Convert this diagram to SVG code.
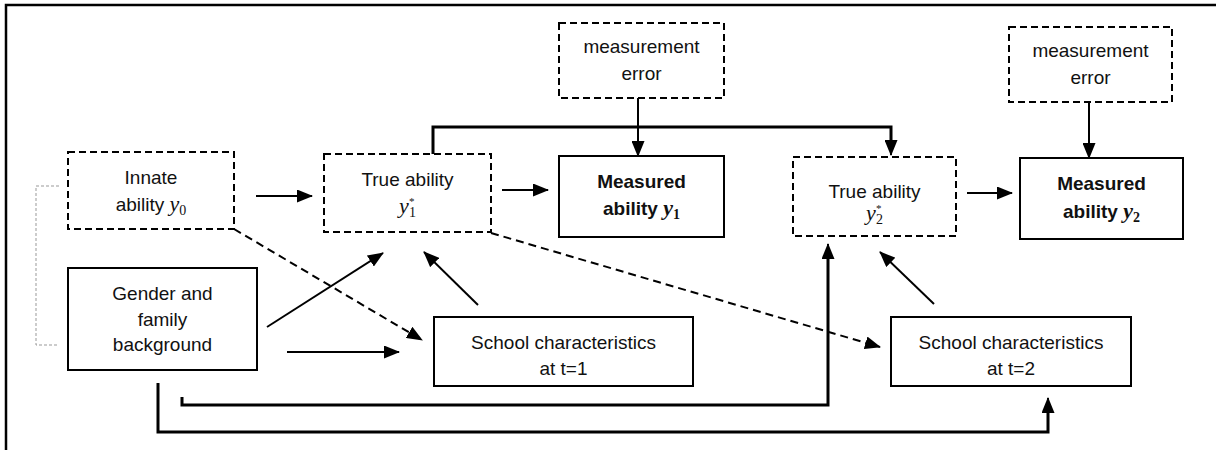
<svg xmlns="http://www.w3.org/2000/svg" width="1216" height="450" viewBox="0 0 1216 450">
<style>
.box{fill:#fff;stroke:#000;stroke-width:2}
.dbox{fill:#fff;stroke:#000;stroke-width:2;stroke-dasharray:7,4}
.t{font-family:"Liberation Sans",Arial,sans-serif;font-size:19px;fill:#111;text-anchor:middle}
.b{font-weight:bold}
.m{font-family:"Liberation Serif","Times New Roman",serif;font-style:italic;font-size:22px}
.s{font-family:"Liberation Serif","Times New Roman",serif;font-style:normal;font-size:14px}
.st{font-family:"Liberation Serif","Times New Roman",serif;font-style:normal;font-size:11px}
.ln{fill:none;stroke:#000;stroke-width:2}
.thk{fill:none;stroke:#000;stroke-width:3}
.dl{fill:none;stroke:#000;stroke-width:2;stroke-dasharray:8,5}
</style>
<defs>
<marker id="ah" viewBox="0 0 16 13" refX="15" refY="6.5" markerWidth="16" markerHeight="13" markerUnits="userSpaceOnUse" orient="auto">
<path d="M0,0 L16,6.5 L0,13 Z" fill="#000"/>
</marker>
</defs>
<rect width="1216" height="450" fill="#fff"/>
<g id="frame">
<path d="M6,450 V5 H1216" fill="none" stroke="#000" stroke-width="2.5"/>
</g>
<g id="bracket">
<path d="M59,186 H36 V345 H59" fill="none" stroke="#999" stroke-width="1" stroke-dasharray="3,2"/>
</g>
<g id="connectors">
<line class="ln" x1="256" y1="196" x2="312" y2="196" marker-end="url(#ah)"/>
<line class="ln" x1="502" y1="190" x2="548" y2="190" marker-end="url(#ah)"/>
<line class="ln" x1="967" y1="193" x2="1012" y2="193" marker-end="url(#ah)"/>
<line class="ln" x1="638" y1="98" x2="638" y2="156" marker-end="url(#ah)"/>
<line class="ln" x1="1089" y1="102" x2="1089" y2="158" marker-end="url(#ah)"/>
<path class="thk" d="M433,154 V127 H891 V140"/>
<line class="ln" x1="891" y1="138" x2="891" y2="155" marker-end="url(#ah)"/>
<line class="ln" x1="267" y1="327" x2="383" y2="253" marker-end="url(#ah)"/>
<line class="ln" x1="287" y1="352" x2="399" y2="352" marker-end="url(#ah)"/>
<line class="dl" x1="234" y1="229" x2="422" y2="340" marker-end="url(#ah)"/>
<line class="ln" x1="478" y1="305" x2="424" y2="252" marker-end="url(#ah)"/>
<line class="dl" x1="491" y1="233" x2="880" y2="347" marker-end="url(#ah)"/>
<line class="ln" x1="934" y1="304" x2="880" y2="252" marker-end="url(#ah)"/>
<path class="thk" d="M182,397 V405 H828 V256"/>
<line class="ln" x1="828" y1="260" x2="828" y2="244" marker-end="url(#ah)"/>
<path class="thk" d="M158,383 V432 H1048 V410"/>
<line class="ln" x1="1048" y1="412" x2="1048" y2="398" marker-end="url(#ah)"/>
</g>
<g id="innate">
<rect class="dbox" x="68" y="152" width="166" height="77"/>
<text class="t" x="151" y="184">Innate</text>
<text class="t" x="151" y="211">ability <tspan class="m">y</tspan><tspan class="s" dy="4">0</tspan></text>
</g>
<g id="gender">
<rect class="box" x="68" y="268" width="189" height="102"/>
<text class="t" x="162.5" y="300">Gender and</text>
<text class="t" x="162.5" y="326">family</text>
<text class="t" x="162.5" y="351">background</text>
</g>
<g id="true1">
<rect class="dbox" x="324" y="154" width="167" height="78"/>
<text class="t" x="407.5" y="186">True ability</text>
<text class="t" x="407.5" y="213"><tspan class="m">y</tspan><tspan class="s" dy="4">1</tspan><tspan class="st" dx="-7" dy="-12">*</tspan></text>
</g>
<g id="measured1">
<rect class="box" x="559" y="156" width="165" height="81"/>
<text class="t b" x="641.5" y="188">Measured</text>
<text class="t b" x="641.5" y="215">ability <tspan class="m">y</tspan><tspan class="s" dy="4">1</tspan></text>
</g>
<g id="error1">
<rect class="dbox" x="559" y="23" width="165" height="75"/>
<text class="t" x="641.5" y="53">measurement</text>
<text class="t" x="641.5" y="80">error</text>
</g>
<g id="true2">
<rect class="dbox" x="793" y="157" width="163" height="79"/>
<text class="t" x="874.5" y="198">True ability</text>
<text class="t" x="874.5" y="220"><tspan class="m">y</tspan><tspan class="s" dy="4">2</tspan><tspan class="st" dx="-7" dy="-12">*</tspan></text>
</g>
<g id="measured2">
<rect class="box" x="1020" y="158" width="163" height="81"/>
<text class="t b" x="1101.5" y="190">Measured</text>
<text class="t b" x="1101.5" y="218">ability <tspan class="m">y</tspan><tspan class="s" dy="4">2</tspan></text>
</g>
<g id="error2">
<rect class="dbox" x="1009" y="27" width="163" height="75"/>
<text class="t" x="1090.5" y="57">measurement</text>
<text class="t" x="1090.5" y="84">error</text>
</g>
<g id="school1">
<rect class="box" x="434" y="317" width="259" height="69"/>
<text class="t" x="563.5" y="349">School characteristics</text>
<text class="t" x="563.5" y="375">at t=1</text>
</g>
<g id="school2">
<rect class="box" x="891" y="317" width="240" height="69"/>
<text class="t" x="1011" y="349">School characteristics</text>
<text class="t" x="1011" y="375">at t=2</text>
</g>
</svg>
